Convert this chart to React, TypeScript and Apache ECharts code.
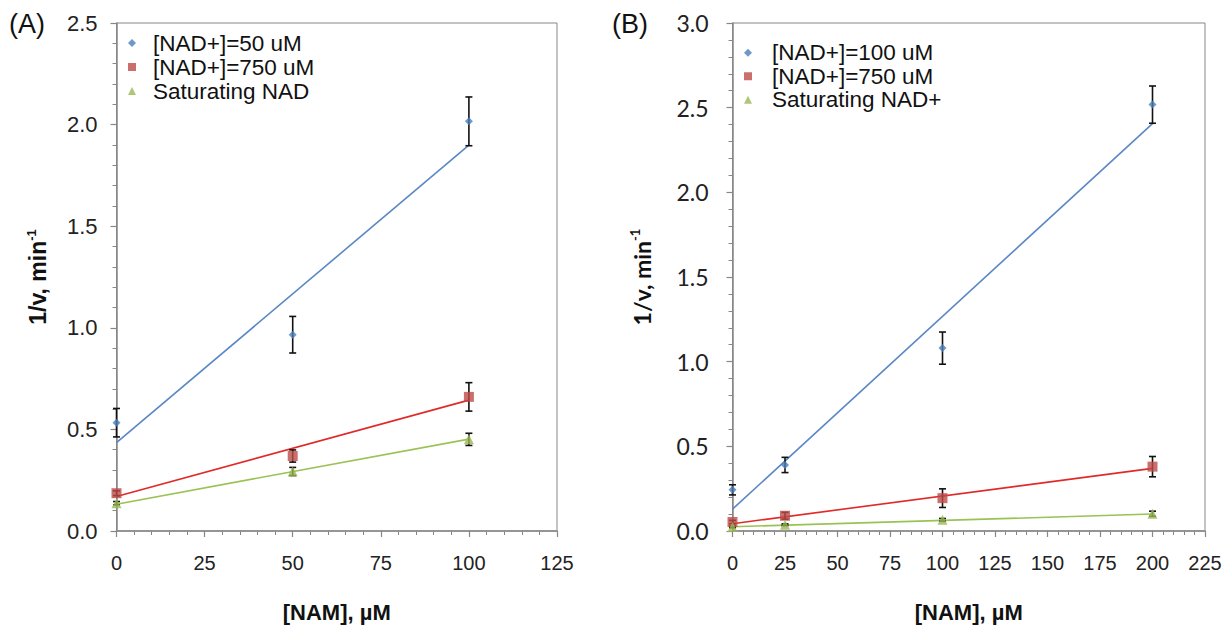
import React, { useEffect, useRef } from "react";
import * as echarts from "echarts";

// Panel A data
const A_X = [0, 50, 100];
const A_BLUE = [0.533, 0.966, 2.016];
const A_BLUE_ERR = [0.07, 0.09, 0.12];
const A_RED = [0.186, 0.369, 0.66];
const A_RED_ERR = [0.012, 0.03, 0.07];
const A_GREEN = [0.137, 0.293, 0.451];
const A_GREEN_ERR = [0.008, 0.02, 0.03];
const A_FIT_X = [0, 100];
const A_FIT_BLUE = [0.435, 1.899];
const A_FIT_RED = [0.17, 0.644];
const A_FIT_GREEN = [0.132, 0.452];
const A_NAMES = ["[NAD+]=50 uM", "[NAD+]=750 uM", "Saturating NAD"];

// Panel B data
const B_X = [0, 25, 100, 200];
const B_BLUE = [0.243, 0.39, 1.08, 2.518];
const B_BLUE_ERR = [0.03, 0.045, 0.095, 0.11];
const B_RED = [0.053, 0.09, 0.194, 0.38];
const B_RED_ERR = [0.01, 0.02, 0.055, 0.06];
const B_GREEN = [0.024, 0.037, 0.066, 0.102];
const B_GREEN_ERR = [0.005, 0.005, 0.008, 0.015];
const B_FIT_X = [0, 200];
const B_FIT_BLUE = [0.129, 2.406];
const B_FIT_RED = [0.043, 0.37];
const B_FIT_GREEN = [0.025, 0.1];
const B_NAMES = ["[NAD+]=100 uM", "[NAD+]=750 uM", "Saturating NAD+"];

const BLUE = "#4a7ebb";
const RED = "#be4b48";
const GREEN = "#98b954";
const BLUE_LINE = "#5b87c5";
const RED_LINE = "#e02a2a";
const GREEN_LINE = "#9bc254";
const AXIS = "#878787";

const zip = (xs: number[], ys: number[]) => xs.map((x, i) => [x, ys[i]]);
const zip3 = (xs: number[], ys: number[], es: number[]) => xs.map((x, i) => [x, ys[i], es[i]]);

function errSeries(idx: number, xs: number[], ys: number[], es: number[]) {
  return {
    type: "custom",
    xAxisIndex: idx,
    yAxisIndex: idx,
    z: 3,
    silent: true,
    data: zip3(xs, ys, es),
    renderItem: (_p: any, api: any) => {
      const x = api.value(0);
      const y = api.value(1);
      const e = api.value(2);
      const top = api.coord([x, y + e]);
      const bot = api.coord([x, y - e]);
      const hw = 3.5;
      const st = { stroke: "#111", lineWidth: 1.6 };
      return {
        type: "group",
        children: [
          { type: "line", shape: { x1: top[0], y1: top[1], x2: bot[0], y2: bot[1] }, style: st },
          { type: "line", shape: { x1: top[0] - hw, y1: top[1], x2: top[0] + hw, y2: top[1] }, style: st },
          { type: "line", shape: { x1: bot[0] - hw, y1: bot[1], x2: bot[0] + hw, y2: bot[1] }, style: st },
        ],
      };
    },
  };
}

function fitSeries(idx: number, xs: number[], ys: number[], color: string) {
  return {
    type: "line",
    xAxisIndex: idx,
    yAxisIndex: idx,
    data: zip(xs, ys),
    symbol: "none",
    z: 2,
    silent: true,
    lineStyle: { color, width: 1.6 },
  };
}

function scatter(idx: number, name: string, xs: number[], ys: number[], color: string, symbol: string, size: number) {
  return {
    type: "scatter",
    name,
    xAxisIndex: idx,
    yAxisIndex: idx,
    data: zip(xs, ys),
    symbol,
    symbolSize: size,
    z: 5,
    itemStyle: { color },
  };
}

export default function App() {
  const ref = useRef<HTMLDivElement>(null);
  useEffect(() => {
    document.body.style.margin = "0";
    const chart = echarts.init(ref.current!, undefined, { renderer: "svg" });
    const arial = "Liberation Sans, Arial, sans-serif";
    const cal = "Lato, Open Sans, sans-serif";
    const yAxisBase = (idx: number, max: number, font: string, size: number, margin: number, gap: number) => ({
      type: "value",
      gridIndex: idx,
      min: 0,
      max,
      interval: 0.5,
      name: "{a|1/v, min}{b|-1}",
      nameLocation: "middle",
      nameGap: gap,
      nameRotate: 90,
      nameTextStyle: {
        rich: {
          a: { fontFamily: font, fontWeight: "bold", fontSize: 23, color: "#111", lineHeight: 26 },
          b: { fontFamily: font, fontWeight: "bold", fontSize: 13, color: "#111", verticalAlign: "top", lineHeight: 14 },
        },
      },
      axisLine: { show: true, lineStyle: { color: AXIS, width: 1.5 } },
      axisTick: { show: true, length: 6, lineStyle: { color: AXIS, width: 1.2 } },
      minorTick: { show: true, splitNumber: 5, length: 4, lineStyle: { color: AXIS, width: 1 } },
      splitLine: { show: false },
      axisLabel: {
        fontFamily: font,
        fontSize: size,
        color: "#222",
        margin,
        formatter: (v: number) => v.toFixed(1),
      },
    });
    const xAxisBase = (idx: number, max: number, font: string, size: number, margin: number, minor: number) => ({
      type: "value",
      gridIndex: idx,
      min: 0,
      max,
      interval: 25,
      name: "[NAM], µM",
      nameLocation: "middle",
      nameGap: 70,
      nameTextStyle: { fontFamily: arial, fontWeight: "bold", fontSize: 22, color: "#111" },
      axisLine: { show: true, onZero: false, lineStyle: { color: AXIS, width: 1.5 } },
      axisTick: { show: true, length: 6, lineStyle: { color: AXIS, width: 1.2 } },
      minorTick: { show: true, splitNumber: minor, length: 4, lineStyle: { color: AXIS, width: 1 } },
      splitLine: { show: false },
      axisLabel: { fontFamily: font, fontSize: size, color: "#222", margin },
    });
    const legendBase = (names: string[], left: number, top: number, size: number, lh: number, pad: number) => ({
      data: names,
      orient: "vertical",
      left,
      top,
      padding: 0,
      itemGap: 0,
      itemWidth: 8,
      itemHeight: 8,
      selectedMode: false,
      formatter: (n: string) => `{t|${n}}`,
      textStyle: {
        fontFamily: arial,
        fontSize: size,
        color: "#111",
        lineHeight: lh,
        rich: { t: { fontFamily: arial, fontSize: size, color: "#111", lineHeight: lh, padding: [0, 0, 0, pad] } },
      },
    });
    chart.setOption({
      animation: false,
      backgroundColor: "#fff",
      grid: [
        { left: 116.5, top: 23, width: 440.5, height: 510, show: true, borderColor: AXIS, borderWidth: 1, backgroundColor: "transparent" },
        { left: 732.5, top: 23, width: 472.5, height: 510, show: true, borderColor: AXIS, borderWidth: 1, backgroundColor: "transparent" },
      ],
      xAxis: [xAxisBase(0, 125, arial, 20, 22, 5), xAxisBase(1, 225, arial, 20, 22, 5)],
      yAxis: [yAxisBase(0, 2.5, arial, 22, 19, 66), yAxisBase(1, 3.0, cal, 23, 24, 78)],
      legend: [legendBase(A_NAMES, 128, 31, 22.5, 24, 12), legendBase(B_NAMES, 744, 41, 22.5, 23.5, 15)],
      graphic: [
        { type: "text", left: 9, top: 10, style: { text: "(A)", fontFamily: arial, fontSize: 27, fill: "#111" } },
        { type: "text", left: 612, top: 10, style: { text: "(B)", fontFamily: arial, fontSize: 27, fill: "#111" } },
      ],
      series: [
        fitSeries(0, A_FIT_X, A_FIT_BLUE, BLUE_LINE),
        fitSeries(0, A_FIT_X, A_FIT_RED, RED_LINE),
        fitSeries(0, A_FIT_X, A_FIT_GREEN, GREEN_LINE),
        errSeries(0, A_X, A_BLUE, A_BLUE_ERR),
        errSeries(0, A_X, A_RED, A_RED_ERR),
        errSeries(0, A_X, A_GREEN, A_GREEN_ERR),
        scatter(0, A_NAMES[0], A_X, A_BLUE, BLUE, "diamond", 8),
        scatter(0, A_NAMES[1], A_X, A_RED, RED, "rect", 10),
        scatter(0, A_NAMES[2], A_X, A_GREEN, GREEN, "triangle", 10),
        fitSeries(1, B_FIT_X, B_FIT_BLUE, BLUE_LINE),
        fitSeries(1, B_FIT_X, B_FIT_RED, RED_LINE),
        fitSeries(1, B_FIT_X, B_FIT_GREEN, GREEN_LINE),
        errSeries(1, B_X, B_BLUE, B_BLUE_ERR),
        errSeries(1, B_X, B_RED, B_RED_ERR),
        errSeries(1, B_X, B_GREEN, B_GREEN_ERR),
        scatter(1, B_NAMES[0], B_X, B_BLUE, BLUE, "diamond", 8),
        scatter(1, B_NAMES[1], B_X, B_RED, RED, "rect", 10),
        scatter(1, B_NAMES[2], B_X, B_GREEN, GREEN, "triangle", 10),
      ],
    });
    return () => chart.dispose();
  }, []);
  return <div ref={ref} style={{ width: 1225, height: 628 }} />;
}
